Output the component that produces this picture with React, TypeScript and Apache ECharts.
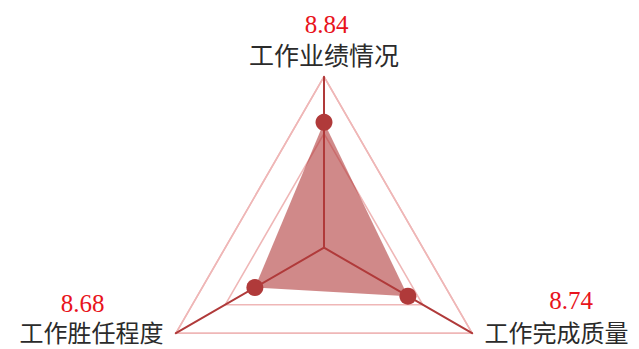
import React, { useEffect, useRef } from "react";
import * as echarts from "echarts";

const indicatorNames = ["工作业绩情况", "工作胜任程度", "工作完成质量"];
const scoreValues = [8.84, 8.68, 8.74];
const axisMin = 8.4;
const axisMax = 9.0;

export default function App() {
  const ref = useRef<HTMLDivElement>(null);
  useEffect(() => {
    if (!ref.current) return;
    const chart = echarts.init(ref.current, null, { renderer: "svg" });
    const cx = 324;
    const cy = 247.7;
    const R = 171;
    const valueFont = "Liberation Serif, Times New Roman, serif";
    const nameFont = "Noto Sans CJK SC, sans-serif";
    const red = "#e8141c";
    const labelPos = [
      { n: [cx, 54], v: [cx + 2.5, 24], s: 25 },
      { n: [91.5, 331.5], v: [82.6, 303], s: 24 },
      { n: [556.5, 331.5], v: [571, 300], s: 24 },
    ];
    const graphics: any[] = [];
    indicatorNames.forEach((name, i) => {
      graphics.push({
        type: "text",
        x: labelPos[i].n[0],
        y: labelPos[i].n[1],
        style: {
          text: name,
          font: `${labelPos[i].s}px ${nameFont}`,
          fill: "#2b2b2b",
          align: "center",
          verticalAlign: "middle",
        },
      });
      graphics.push({
        type: "text",
        x: labelPos[i].v[0],
        y: labelPos[i].v[1],
        style: {
          text: scoreValues[i].toFixed(2),
          font: `25px ${valueFont}`,
          fill: red,
          align: "center",
          verticalAlign: "middle",
        },
      });
    });
    const splitColor = "#efb7b7";
    chart.setOption({
      animation: false,
      graphic: graphics,
      radar: {
        center: [cx, cy],
        radius: R,
        startAngle: 90,
        splitNumber: 3,
        shape: "polygon",
        indicator: indicatorNames.map((name) => ({ name, min: axisMin, max: axisMax })),
        axisName: { show: false },
        axisLine: { lineStyle: { color: "#b03a3a", width: 2 } },
        splitLine: {
          lineStyle: {
            color: [splitColor, "rgba(0,0,0,0)", splitColor, splitColor],
            width: 1.6,
          },
        },
        splitArea: { show: false },
        axisTick: { show: false },
        axisLabel: { show: false },
      },
      series: [
        {
          type: "radar",
          symbol: "circle",
          symbolSize: 17,
          itemStyle: { color: "#b03a3a" },
          lineStyle: { width: 0, color: "rgba(176,58,58,0.6)" },
          areaStyle: { color: "rgba(176,58,58,0.6)", opacity: 1 },
          data: [{ value: scoreValues, name: "得分" }],
        },
      ],
    });
    return () => chart.dispose();
  }, []);
  return (
    <div
      ref={ref}
      style={{ position: "fixed", left: 0, top: 0, width: 639, height: 349, background: "#fff" }}
    />
  );
}
